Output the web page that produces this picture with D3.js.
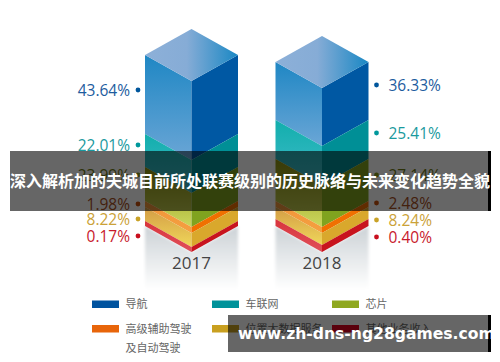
<!DOCTYPE html>
<html>
<head>
<meta charset="utf-8">
<script src="https://cdn.jsdelivr.net/npm/d3@7"></script>
<style>
    html, body { margin: 0; padding: 0; background: #fff; }
    svg { display: block; }
    .cjk { font-family: "Noto Sans CJK SC", sans-serif; }
    .num { font-family: "Open Sans", sans-serif; }
</style>
</head>
<body>
<svg class="chart"></svg>
<script type="text/javascript">
    // data
    var years = ["2017", "2018"];
    var categories = ["导航", "车联网", "芯片", "高级辅助驾驶\n及自动驾驶", "位置大数据服务", "其他业务收入"];
    var values2017 = [43.64, 22.01, 23.99, 1.98, 8.22, 0.17];
    var values2018 = [36.33, 25.41, 27.14, 2.48, 8.24, 0.40];
    var title = "深入解析加的夫城目前所处联赛级别的历史脉络与未来变化趋势全貌";
    var siteText = "www.zh-dns-ng28games.com";

    var width = 500, height = 362;

    // the bands in the picture are not proportional, so each column gets a piecewise scale
    var stops2017 = [81, 160, 193, 227, 233, 247, 252];
    var stops2018 = [88, 146, 185, 227, 233, 245, 252];
    var labelY2017 = [90, 145, 175, 204, 219, 236];
    var labelY2018 = [85, 133, 175, 203, 220, 237];

    var halfW = 46.5, slope = 26;

    var leftTop = ["#1f87c4", "#12aeac", "#8e9310", "#f0953a", "#d49c45", "#d8343c"];
    var leftBottom = ["#6ba6d6", "#40bccb", "#cbd75e", "#f5a040", "#efd75a", "#e0505a"];
    var rightFill = ["#0058a3", "#008f96", "#80a31f", "#f07000", "#d9a82c", "#c8141e"];
    var textFill = ["#1d5c9e", "#1a9a9e", "#6f7a12", "#a9521f", "#cba238", "#c8192c"];
    var dotFill = ["#00569c", "#00989c", "#8a9a1a", "#c8500a", "#c9a227", "#c80f1e"];
    var swatchFill = ["#00539f", "#00929a", "#8fa820", "#e8650a", "#c9a020", "#e00020"];

    var columns = [
        { year: years[0], values: values2017, stops: stops2017, labelY: labelY2017 },
        { year: years[1], values: values2018, stops: stops2018, labelY: labelY2018 }
    ];

    var scaleX = d3.scalePoint().domain(years).range([191.5, 322]);

    var chart = d3.select(".chart").attr("width", width).attr("height", height);
    var defs = chart.append("defs");

    categories.forEach(function (c, i) {
        var g = defs.append("linearGradient").attr("id", "left" + i)
            .attr("x1", 0).attr("y1", 0).attr("x2", 0).attr("y2", 1);
        g.append("stop").attr("offset", "0%").attr("stop-color", leftTop[i]);
        g.append("stop").attr("offset", "100%").attr("stop-color", leftBottom[i]);
    });

    var topGrad = defs.append("linearGradient").attr("id", "topFace")
        .attr("x1", 0).attr("y1", 0).attr("x2", 1).attr("y2", 0);
    topGrad.append("stop").attr("offset", "0%").attr("stop-color", "#8db0d8");
    topGrad.append("stop").attr("offset", "45%").attr("stop-color", "#86acd6");
    topGrad.append("stop").attr("offset", "100%").attr("stop-color", "#1a88c4");

    var shadowGrad = defs.append("linearGradient").attr("id", "shadow")
        .attr("x1", 0).attr("y1", 0).attr("x2", 0).attr("y2", 1);
    shadowGrad.append("stop").attr("offset", "0%").attr("stop-color", "#ccd2d6");
    shadowGrad.append("stop").attr("offset", "100%").attr("stop-color", "#ffffff");

    defs.append("filter").attr("id", "soft")
        .append("feGaussianBlur").attr("stdDeviation", 1.5);

    function poly(points) {
        return d3.line()(points) + "Z";
    }

    columns.forEach(function (col) {
        var cx = scaleX(col.year);
        var cum = [0].concat(Array.from(d3.cumsum(col.values)));
        var scaleY = d3.scaleLinear().domain(cum).range(col.stops);
        var g = chart.append("g");

        // shadow under the column
        var base = scaleY(cum[cum.length - 1]);
        g.append("path")
            .attr("d", poly([[cx - halfW, base - slope], [cx, base], [cx + halfW, base - slope], [cx + halfW, base + 38], [cx - halfW, base + 38]]))
            .attr("fill", "url(#shadow)")
            .attr("filter", "url(#soft)");

        col.values.forEach(function (v, i) {
            var y0 = scaleY(cum[i]), y1 = scaleY(cum[i + 1]);
            g.append("path")
                .attr("d", poly([[cx - halfW, y0 - slope], [cx, y0], [cx, y1], [cx - halfW, y1 - slope]]))
                .attr("fill", "url(#left" + i + ")");
            g.append("path")
                .attr("d", poly([[cx, y0], [cx + halfW, y0 - slope], [cx + halfW, y1 - slope], [cx, y1]]))
                .attr("fill", rightFill[i]);
        });

        var top = scaleY(0);
        g.append("path")
            .attr("d", poly([[cx - halfW, top - slope], [cx, top - 2 * slope], [cx + halfW, top - slope], [cx, top]]))
            .attr("fill", "url(#topFace)");

        g.append("text").attr("class", "num")
            .attr("x", cx).attr("y", base + 17)
            .attr("text-anchor", "middle")
            .attr("font-size", 17).attr("fill", "#444")
            .text(col.year);

        // value labels sit left of the first column and right of the second
        var isLeft = col.year === years[0];
        col.values.forEach(function (v, i) {
            var y = col.labelY[i];
            g.append("circle")
                .attr("cx", isLeft ? cx - halfW - 7 : cx + halfW + 8)
                .attr("cy", y).attr("r", 2.4)
                .attr("fill", dotFill[i]);
            g.append("text").attr("class", "num")
                .attr("x", isLeft ? cx - halfW - 15 : cx + halfW + 20)
                .attr("y", y).attr("dy", "0.36em")
                .attr("text-anchor", isLeft ? "end" : "start")
                .attr("font-size", 15.5).attr("fill", textFill[i])
                .text(v.toFixed(2) + "%");
        });
    });

    // legend
    var legendX = d3.scalePoint().domain([0, 1, 2]).range([92, 332]);
    var legendY = d3.scalePoint().domain([0, 1]).range([304, 328.5]);

    var legend = chart.append("g").selectAll("g")
        .data(categories)
        .join("g")
        .attr("transform", function (d, i) {
            return "translate(" + legendX(i % 3) + "," + legendY(Math.floor(i / 3)) + ")";
        });

    legend.append("rect")
        .attr("y", -3.5).attr("width", 27).attr("height", 7.5)
        .attr("fill", function (d, i) { return swatchFill[i]; });

    legend.each(function (d) {
        var t = d3.select(this).append("text").attr("class", "cjk")
            .attr("font-size", 11).attr("fill", "#666");
        d.split("\n").forEach(function (line, k) {
            t.append("tspan")
                .attr("x", 33.5).attr("y", k * 19.5 + 4)
                .text(line);
        });
    });

    // banners laid over the picture
    chart.append("rect").attr("x", 10).attr("y", 151).attr("width", 480).attr("height", 60)
        .attr("fill", "#000").attr("fill-opacity", 0.6);
    chart.append("rect").attr("x", 488).attr("y", 151).attr("width", 3).attr("height", 60)
        .attr("fill", "#000");
    chart.append("text").attr("class", "cjk")
        .attr("x", 250).attr("y", 186.5)
        .attr("text-anchor", "middle")
        .attr("font-size", 16).attr("font-weight", 700).attr("fill", "#fff")
        .text(title);

    chart.append("rect").attr("x", 228).attr("y", 315).attr("width", 262).attr("height", 37)
        .attr("fill", "#000").attr("fill-opacity", 0.6);
    chart.append("rect").attr("x", 488).attr("y", 315).attr("width", 3).attr("height", 37)
        .attr("fill", "#000");
    chart.append("text")
        .attr("x", 238).attr("y", 338.5)
        .attr("font-family", "DejaVu Sans, sans-serif")
        .attr("font-size", 15.6).attr("font-weight", 700).attr("fill", "#fff")
        .text(siteText);
</script>
</body>
</html>
